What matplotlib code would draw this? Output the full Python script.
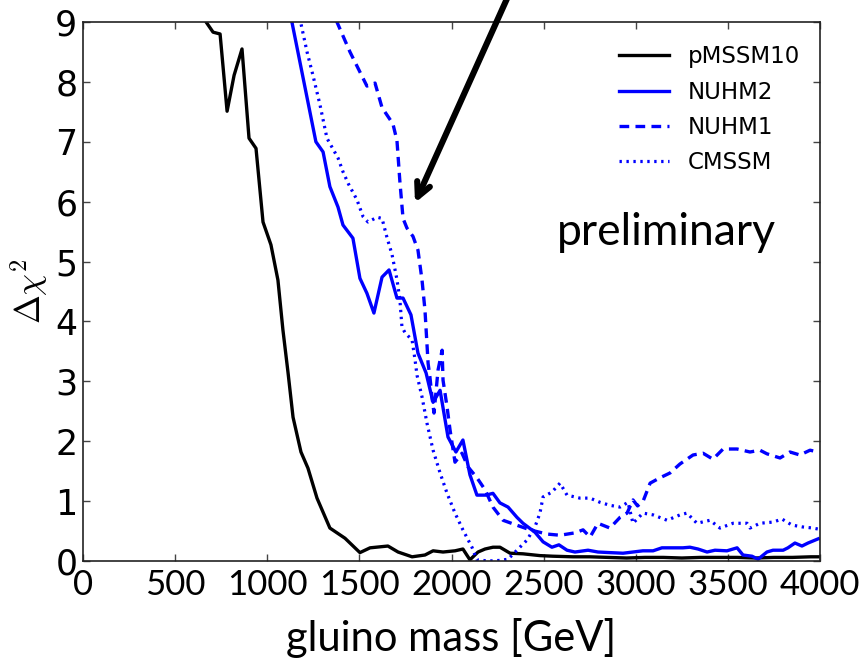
import matplotlib
matplotlib.use("Agg")
import matplotlib.pyplot as plt

plt.rcParams['mathtext.fontset'] = 'cm'
plt.rcParams['lines.scale_dashes'] = False

# ---- data ----
pmssm10_x = [640, 668, 706, 744, 782, 820, 863, 901, 939, 977, 1020, 1058, 1085, 1113, 1140,
             1183, 1221, 1270, 1340, 1422, 1503, 1558, 1655, 1710, 1786, 1856, 1900, 1954,
             2019, 2062, 2100, 2144, 2182, 2225, 2263, 2318, 2388, 2480, 2550, 2659, 2750,
             2850, 2950, 3050, 3150, 3250, 3350, 3450, 3550, 3650, 3750, 3850, 3950, 4000]
pmssm10_y = [9.4, 9.0, 8.83, 8.8, 7.51, 8.11, 8.55, 7.06, 6.89, 5.66, 5.28, 4.69, 3.86, 3.14, 2.4,
             1.82, 1.55, 1.05, 0.55, 0.38, 0.14, 0.22, 0.25, 0.15, 0.07, 0.10, 0.17, 0.15,
             0.17, 0.20, 0.02, 0.15, 0.20, 0.23, 0.23, 0.13, 0.12, 0.09, 0.08, 0.07, 0.07,
             0.06, 0.05, 0.06, 0.06, 0.05, 0.06, 0.06, 0.06, 0.05, 0.06, 0.06, 0.07, 0.07]

nuhm2_x = [1100, 1264, 1303, 1340, 1384, 1411, 1465, 1503, 1541, 1579, 1623, 1661, 1704, 1737,
           1780, 1818, 1862, 1900, 1938, 1981, 2024, 2062, 2100, 2138, 2187, 2225, 2263, 2307,
           2355, 2388, 2453, 2497, 2545, 2583, 2627, 2670, 2741, 2795, 2860, 2931, 2985, 3039,
           3094, 3142, 3200, 3256, 3294, 3338, 3387, 3430, 3495, 3550, 3582, 3631, 3664, 3712,
           3745, 3800, 3826, 3864, 3902, 3935, 3990]
nuhm2_y = [9.52, 7.0, 6.83, 6.25, 5.91, 5.61, 5.39, 4.72, 4.47, 4.14, 4.74, 4.86, 4.39, 4.39,
           4.11, 3.47, 3.14, 2.65, 2.85, 2.07, 1.82, 2.02, 1.44, 1.10, 1.10, 1.13, 0.97, 0.90,
           0.73, 0.63, 0.48, 0.32, 0.23, 0.27, 0.18, 0.15, 0.18, 0.15, 0.14, 0.13, 0.15, 0.17,
           0.17, 0.22, 0.22, 0.22, 0.23, 0.20, 0.15, 0.18, 0.17, 0.22, 0.10, 0.08, 0.03, 0.15,
           0.18, 0.18, 0.22, 0.30, 0.25, 0.30, 0.37]

nuhm1_x = [1340, 1449, 1541, 1585, 1623, 1682, 1704, 1720, 1737, 1758, 1791, 1818, 1840, 1856,
           1873, 1883, 1894, 1905, 1927, 1949, 1954, 1976, 1992, 2019, 2057, 2090, 2138, 2182,
           2225, 2280, 2334, 2426, 2518, 2589, 2670, 2714, 2752, 2795, 2860, 2915, 2953, 2985,
           3010, 3040, 3078, 3132, 3186, 3240, 3311, 3365, 3419, 3474, 3550, 3620, 3674, 3712,
           3783, 3837, 3891, 3946, 3990]
nuhm1_y = [9.27, 8.5, 7.93, 7.98, 7.57, 7.3, 7.02, 6.33, 5.72, 5.56, 5.42, 5.19, 4.69, 4.19,
           3.3, 3.07, 2.74, 2.47, 3.19, 3.52, 3.02, 2.57, 2.19, 1.65, 1.80, 1.57, 1.39, 1.19,
           0.90, 0.68, 0.62, 0.52, 0.45, 0.43, 0.47, 0.52, 0.40, 0.63, 0.55, 0.73, 0.80, 1.02,
           0.92, 1.00, 1.30, 1.39, 1.47, 1.62, 1.77, 1.80, 1.70, 1.87, 1.87, 1.82, 1.85, 1.79,
           1.72, 1.82, 1.77, 1.85, 1.82]

cmssm_x = [1160, 1216, 1248, 1286, 1324, 1384, 1411, 1440, 1487, 1520, 1547, 1596, 1623, 1650,
           1677, 1704, 1720, 1731, 1748, 1786, 1802, 1813, 1840, 1867, 1900, 1938, 1976, 2019,
           2062, 2111, 2138, 2200, 2263, 2307, 2355, 2410, 2453, 2480, 2497, 2545, 2589, 2627,
           2697, 2752, 2806, 2860, 2915, 2958, 2985, 3039, 3094, 3170, 3240, 3278, 3332, 3403,
           3457, 3528, 3604, 3620, 3674, 3745, 3794, 3848, 3902, 3962, 3995]
cmssm_y = [9.3, 8.5, 8.11, 7.62, 7.06, 6.73, 6.5, 6.3, 6.03, 5.75, 5.66, 5.74, 5.72, 5.4,
           5.12, 4.7, 4.36, 3.91, 3.81, 3.69, 3.36, 3.1, 2.74, 2.30, 1.85, 1.47, 1.13, 0.8,
           0.52, 0.23, 0.02, 0.0, 0.01, 0.03, 0.18, 0.35, 0.57, 0.8, 1.07, 1.15, 1.30, 1.10,
           1.05, 1.05, 0.98, 0.93, 0.90, 0.98, 0.63, 0.80, 0.77, 0.68, 0.77, 0.80, 0.63, 0.68,
           0.55, 0.63, 0.63, 0.55, 0.63, 0.65, 0.70, 0.60, 0.57, 0.55, 0.53]

x_ticks = [0, 500, 1000, 1500, 2000, 2500, 3000, 3500, 4000]
y_ticks = [0, 1, 2, 3, 4, 5, 6, 7, 8, 9]

# ---- figure ----
fig = plt.figure(figsize=(8.66, 6.65), dpi=100)
ax = fig.add_axes([83/866, 1-561/665, (820-83)/866, (561-22)/665])

lw = 2.4
ax.plot(pmssm10_x, pmssm10_y, color='black', lw=lw, label='pMSSM10')
ax.plot(nuhm2_x, nuhm2_y, color='#0000ff', lw=lw, label='NUHM2')
ax.plot(nuhm1_x, nuhm1_y, color='#0000ff', lw=lw, dashes=(7, 4.5), label='NUHM1')
ax.plot(cmssm_x, cmssm_y, color='#0000ff', lw=2.3, dashes=(1.7, 3.3), label='CMSSM')

ax.set_xlim(0, 4000)
ax.set_ylim(0, 9)
ax.set_xticks(x_ticks)
ax.set_yticks(y_ticks)
ax.set_xticklabels([str(v) for v in x_ticks], fontfamily='Lato', fontsize=25)
ax.set_yticklabels([str(v) for v in y_ticks], fontfamily='DejaVu Sans', fontsize=25)
ax.tick_params(direction='in', length=5, width=1, color='#444444', top=True, right=True)
ax.tick_params(axis='x', pad=6)
ax.tick_params(axis='y', pad=4)
for s in ax.spines.values():
    s.set_linewidth(1.2)
    s.set_color('#222222')

ax.set_xlabel('gluino mass [GeV]', fontfamily='Lato', fontsize=30, labelpad=12)
ax.set_ylabel(r'$\Delta\chi^2$', fontsize=25, labelpad=4)

ax.text(3164, 5.49, 'preliminary', fontfamily='Lato', fontsize=32,
        ha='center', va='center')

leg = ax.legend(loc='upper right', frameon=False, fontsize=16.5, handlelength=2.2,
                handletextpad=0.8, labelspacing=0.53, borderaxespad=0.0,
                bbox_to_anchor=(0.985, 0.9735))

ax.annotate('', xy=(1802, 5.98), xytext=(2310, 9.45), xycoords='data',
            arrowprops=dict(arrowstyle='->,head_length=1.0,head_width=0.5', lw=4.4,
                            color='black', shrinkA=0, shrinkB=0),
            annotation_clip=False)

fig.savefig('out.png', dpi=100)
